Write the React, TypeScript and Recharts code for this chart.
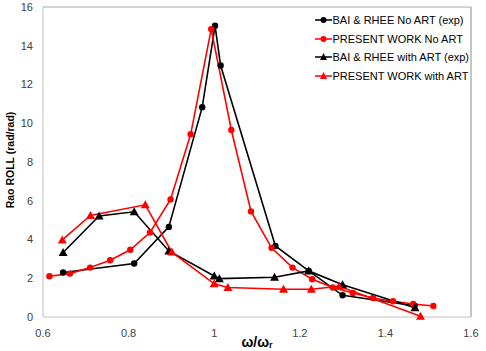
import React from 'react';
import { LineChart, Line, XAxis, YAxis, Legend, ReferenceLine } from 'recharts';

const xTicks = [0.6, 0.8, 1, 1.2, 1.4, 1.6];
const yTicks = [0, 2, 4, 6, 8, 10, 12, 14, 16];

const seriesNames = [
  'BAI & RHEE No ART (exp)',
  'PRESENT WORK No ART',
  'BAI & RHEE with ART (exp)',
  'PRESENT WORK with ART',
];
const seriesColors = ['#000000', '#ff0000', '#000000', '#ff0000'];
const seriesMarkers = ['circle', 'circle', 'triangle', 'triangle'];

const baiNoArtX = [0.647, 0.813, 0.894, 0.972, 1.002, 1.015, 1.143, 1.221, 1.3, 1.468];
const baiNoArtY = [2.3, 2.76, 4.65, 10.83, 15.03, 12.98, 3.67, 2.38, 1.12, 0.58];

const presentNoArtX = [0.615, 0.663, 0.71, 0.757, 0.804, 0.85, 0.898, 0.945, 0.993, 1.04, 1.086, 1.134, 1.183, 1.229, 1.277, 1.324, 1.371, 1.418, 1.465, 1.512];
const presentNoArtY = [2.1, 2.24, 2.55, 2.93, 3.47, 4.36, 6.07, 9.43, 14.86, 9.65, 5.45, 3.57, 2.55, 1.95, 1.52, 1.24, 0.98, 0.81, 0.67, 0.57];

const baiArtX = [0.647, 0.731, 0.813, 0.894, 1.0, 1.012, 1.141, 1.221, 1.3, 1.469];
const baiArtY = [3.33, 5.21, 5.43, 3.41, 2.12, 1.98, 2.05, 2.38, 1.67, 0.48];

const presentArtX = [0.645, 0.711, 0.839, 0.901, 1.0, 1.032, 1.162, 1.227, 1.292, 1.482];
const presentArtY = [3.98, 5.24, 5.79, 3.35, 1.71, 1.52, 1.43, 1.43, 1.59, 0.04];

const toData = (xs: number[], ys: number[]) => xs.map((x, i) => ({ x, y: ys[i] }));

const seriesData = [
  toData(baiNoArtX, baiNoArtY),
  toData(presentNoArtX, presentNoArtY),
  toData(baiArtX, baiArtY),
  toData(presentArtX, presentArtY),
];

const FONT = '"Liberation Sans", Arial, sans-serif';

const makeDot = (marker: string, color: string) => (props: any) => {
  const { cx, cy, index } = props;
  if (cx == null || cy == null) return <g key={index} />;
  if (marker === 'triangle') {
    return (
      <polygon
        key={index}
        points={`${cx},${cy - 4.5} ${cx - 4.5},${cy + 3.5} ${cx + 4.5},${cy + 3.5}`}
        fill={color}
        stroke="none"
      />
    );
  }
  return <circle key={index} cx={cx} cy={cy} r={3.2} fill={color} stroke="none" />;
};

const LegendContent = () => (
  <div style={{ fontFamily: FONT, fontSize: 11, color: '#000' }}>
    {seriesNames.map((name, i) => (
      <div key={name} style={{ display: 'flex', alignItems: 'center', height: 18.6 }}>
        <svg width={17} height={10} style={{ display: 'block' }}>
          <line x1={0} y1={5} x2={17} y2={5} stroke={seriesColors[i]} strokeWidth={1.5} />
          {seriesMarkers[i] === 'triangle' ? (
            <polygon points="8.5,1 5,8 12,8" fill={seriesColors[i]} />
          ) : (
            <circle cx={8.5} cy={5} r={3} fill={seriesColors[i]} />
          )}
        </svg>
        <span style={{ whiteSpace: 'nowrap', marginLeft: 0.5 }}>{name}</span>
      </div>
    ))}
  </div>
);

const YLabel = (props: any) => {
  const vb = props.viewBox || {};
  const cx = 10;
  const cy = (vb.y ?? 7) + (vb.height ?? 310) / 2 - 2;
  return (
    <text
      x={cx}
      y={cy}
      transform={`rotate(-90, ${cx}, ${cy})`}
      textAnchor="middle"
      dominantBaseline="central"
      fontFamily={FONT}
      fontWeight="bold"
      fontSize={10.5}
      fill="#000"
    >
      Rao ROLL (rad/rad)
    </text>
  );
};

const XLabel = (props: any) => {
  const vb = props.viewBox || {};
  const cx = (vb.x ?? 43) + (vb.width ?? 428) / 2;
  return (
    <text x={cx} y={347} textAnchor="middle" fontFamily={FONT} fontWeight="bold" fontSize={14} fill="#000">
      ω/ω
      <tspan fontSize={9} dy={1}>r</tspan>
    </text>
  );
};

export default function App() {
  return (
    <div style={{ position: 'absolute', left: 0, top: 0, background: '#fff' }}>
      <LineChart
        width={486}
        height={351}
        margin={{ top: 7, right: 15, left: 0, bottom: 0 }}
        style={{ fontFamily: FONT }}
      >
        <XAxis
          dataKey="x"
          type="number"
          domain={[0.6, 1.6]}
          ticks={xTicks}
          allowDataOverflow
          height={34}
          tickLine={false}
          tickSize={6}
          tickMargin={6}
          tickFormatter={(v: number) => String(v)}
          tick={{ fontSize: 11, fill: '#404040', fontFamily: FONT }}
          axisLine={{ stroke: '#bfbfbf', strokeWidth: 1 }}
          label={<XLabel />}
        />
        <YAxis
          dataKey="y"
          type="number"
          domain={[0, 16]}
          ticks={yTicks}
          width={43}
          tickLine={false}
          tickSize={5}
          tickMargin={5}
          tick={{ fontSize: 11, fill: '#404040', fontFamily: FONT }}
          axisLine={{ stroke: '#bfbfbf', strokeWidth: 1 }}
          label={<YLabel />}
        />
        <ReferenceLine y={16} stroke="#a6a6a6" strokeWidth={1} ifOverflow="extendDomain" />
        <ReferenceLine x={1.6} stroke="#8c8c8c" strokeWidth={1} ifOverflow="extendDomain" />
        {seriesNames.map((name, i) => (
          <Line
            key={name}
            name={name}
            data={seriesData[i]}
            dataKey="y"
            type="linear"
            stroke={seriesColors[i]}
            strokeWidth={1.6}
            dot={makeDot(seriesMarkers[i], seriesColors[i])}
            activeDot={false}
            isAnimationActive={false}
          />
        ))}
        <Legend
          layout="vertical"
          align="center"
          verticalAlign="middle"
          content={<LegendContent />}
          wrapperStyle={{ left: 315, top: 11, width: 170, height: 76 }}
        />
      </LineChart>
    </div>
  );
}
